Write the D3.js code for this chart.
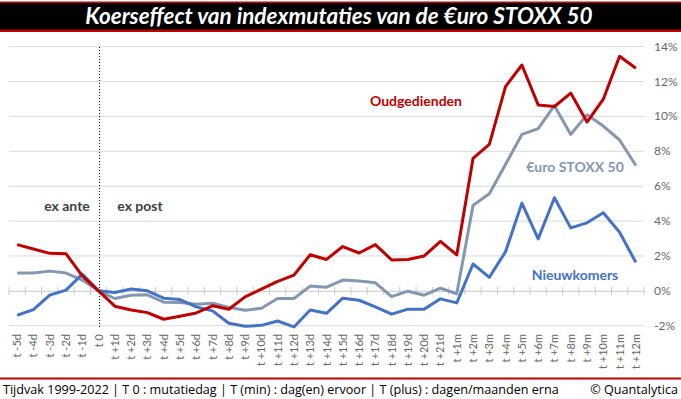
<html>
<head>
<style>
body { margin: 0; background: #fff; }
svg { font-family: Lato, "Open Sans", sans-serif; }
.grid line { stroke: #d9d9d9; stroke-width: 1; }
.xlab text { fill: #666; font-size: 11px; }
.ylab text { fill: #666; font-size: 12px; }
.foot { font-family: "Open Sans", sans-serif; font-size: 12.6px; fill: #000; }
</style>
</head>
<body>
<div id="chart"></div>
<script src="https://cdn.jsdelivr.net/npm/d3@7"></script>
<script>

let categories = ["t -5d", "t -4d", "t -3d", "t -2d", "t -1d", "t 0",
    "t +1d", "t +2d", "t +3d", "t +4d", "t +5d", "t +6d", "t +7d", "t +8d", "t +9d", "t +10d",
    "t +11d", "t +12d", "t +13d", "t +14d", "t +15d", "t +16d", "t +17d", "t +18d", "t +19d",
    "t +20d", "t +21d",
    "t +1m", "t +2m", "t +3m", "t +4m", "t +5m", "t +6m", "t +7m", "t +8m", "t +9m",
    "t +10m", "t +11m", "t +12m"]

// percentages
let oudgedienden = [2.65, 2.4, 2.15, 2.13, 0.86, 0,
    -0.88, -1.1, -1.25, -1.63, -1.46, -1.27, -0.86, -1.06, -0.35, 0.1,
    0.54, 0.9, 2.07, 1.8, 2.54, 2.17, 2.65, 1.77, 1.8,
    2.0, 2.84,
    2.06, 7.59, 8.4, 11.72, 12.95, 10.66, 10.57, 11.34, 9.68,
    10.99, 13.45, 12.76]

let stoxx = [1.02, 1.02, 1.13, 1.02, 0.62, 0,
    -0.44, -0.25, -0.23, -0.65, -0.67, -0.77, -0.71, -0.95, -1.11, -1.0,
    -0.44, -0.44, 0.27, 0.21, 0.62, 0.56, 0.46, -0.33, -0.02,
    -0.25, 0.15,
    -0.17, 4.9, 5.57, 7.26, 8.97, 9.3, 10.62, 8.97, 10.1,
    9.45, 8.65, 7.19]

let nieuwkomers = [-1.4, -1.08, -0.25, 0.04, 0.96, 0,
    -0.1, 0.1, 0.0, -0.42, -0.5, -0.92, -1.15, -1.86, -2.03, -1.98,
    -1.73, -2.07, -1.1, -1.29, -0.42, -0.54, -0.92, -1.34, -1.05,
    -1.05, -0.46,
    -0.69, 1.54, 0.77, 2.25, 5.03, 2.98, 5.34, 3.61, 3.9,
    4.48, 3.36, 1.63]

let yTicks = [-2, 0, 2, 4, 6, 8, 10, 12, 14]

let width = 681
let height = 399

let svg = d3.select("#chart")
    .append("svg")
    .attr("width", width)
    .attr("height", height)

// title bar
svg.append("rect").attr("x", 0).attr("y", 1.5).attr("width", width).attr("height", 30.5).style("fill", "#c00000")
svg.append("rect").attr("x", 0).attr("y", 3).attr("width", width).attr("height", 26.5).style("fill", "#000")
svg.append("text")
    .attr("x", 339).attr("y", 24)
    .attr("text-anchor", "middle")
    .style("fill", "#fff")
    .style("font-size", "22.5px")
    .style("font-weight", "bold")
    .style("font-style", "italic")
    .text("Koerseffect van indexmutaties van de €uro STOXX 50")

let x = d3.scaleBand()
    .domain(categories)
    .range([9, 644])
    .padding(0)

let y = d3.scaleLinear()
    .domain([-2, 14])
    .range([325.7, 46.7])

let cx = d => x(d) + x.bandwidth() / 2

// gridlines
svg.append("g")
    .attr("class", "grid")
    .selectAll("line")
    .data(yTicks.filter(t => t != 0))
    .join("line")
    .attr("x1", 9).attr("x2", 644)
    .attr("y1", d => y(d)).attr("y2", d => y(d))

// zero axis with tick marks
let xAxis = d3.axisBottom(x).tickSize(0).tickFormat("")
let zero = svg.append("g")
    .attr("transform", `translate(0, ${y(0)})`)
    .call(xAxis)
zero.select(".domain").style("stroke", "#c8c8c8")
zero.selectAll(".sep")
    .data(categories.concat(["end"]))
    .join("line")
    .attr("class", "sep")
    .attr("x1", (d, i) => 9 + i * x.bandwidth())
    .attr("x2", (d, i) => 9 + i * x.bandwidth())
    .attr("y1", -4).attr("y2", 4)
    .style("stroke", "#c8c8c8")

// y labels on the right
svg.append("g")
    .attr("class", "ylab")
    .selectAll("text")
    .data(yTicks)
    .join("text")
    .attr("x", 654)
    .attr("y", d => y(d) + 4)
    .text(d => d + "%")

// x labels, rotated
svg.append("g")
    .attr("class", "xlab")
    .selectAll("text")
    .data(categories)
    .join("text")
    .attr("transform", d => `translate(${cx(d) + 4}, 334) rotate(-90)`)
    .attr("text-anchor", "end")
    .text(d => d)

// dotted separator at t 0
svg.append("line")
    .attr("x1", cx("t 0") + 1).attr("x2", cx("t 0") + 1)
    .attr("y1", 47).attr("y2", 327)
    .style("stroke", "#000")
    .style("stroke-dasharray", "1,2")

svg.append("text").attr("x", 67).attr("y", 211).attr("text-anchor", "middle")
    .style("font-size", "14px").style("font-weight", "bold").style("fill", "#404040").text("ex ante")
svg.append("text").attr("x", 140).attr("y", 211).attr("text-anchor", "middle")
    .style("font-size", "14px").style("font-weight", "bold").style("fill", "#404040").text("ex post")

let line = d3.line()
    .x((d, i) => cx(categories[i]))
    .y(d => y(d))

let series = [
    {name: "€uro STOXX 50", values: stoxx, color: "#8497b0"},
    {name: "Nieuwkomers", values: nieuwkomers, color: "#4472c4"},
    {name: "Oudgedienden", values: oudgedienden, color: "#c00000"}
]

svg.append("g")
    .selectAll("path")
    .data(series)
    .join("path")
    .attr("d", d => line(d.values))
    .style("fill", "none")
    .style("stroke", d => d.color)
    .style("stroke-width", 3)
    .style("stroke-linejoin", "round")

// series labels
svg.append("text").attr("x", 416).attr("y", 106).attr("text-anchor", "middle")
    .style("font-size", "14px").style("font-weight", "bold").style("fill", "#c00000").text("Oudgedienden")
svg.append("text").attr("x", 575).attr("y", 172).attr("text-anchor", "middle")
    .style("font-size", "14px").style("font-weight", "bold").style("fill", "#8497b0").text("€uro STOXX 50")
svg.append("text").attr("x", 575).attr("y", 280).attr("text-anchor", "middle")
    .style("font-size", "14px").style("font-weight", "bold").style("fill", "#4472c4").text("Nieuwkomers")

// footer
svg.append("rect").attr("x", 0).attr("y", 377.5).attr("width", width).attr("height", 2).style("fill", "#c00000")
svg.append("text").attr("class", "foot").attr("x", 3).attr("y", 394)
    .text("Tijdvak 1999-2022 |  T 0 : mutatiedag | T (min) : dag(en) ervoor | T (plus) : dagen/maanden erna")
svg.append("text").attr("class", "foot").attr("x", 678).attr("y", 394).attr("text-anchor", "end")
    .text("© Quantalytica")

</script>
</body>
</html>
